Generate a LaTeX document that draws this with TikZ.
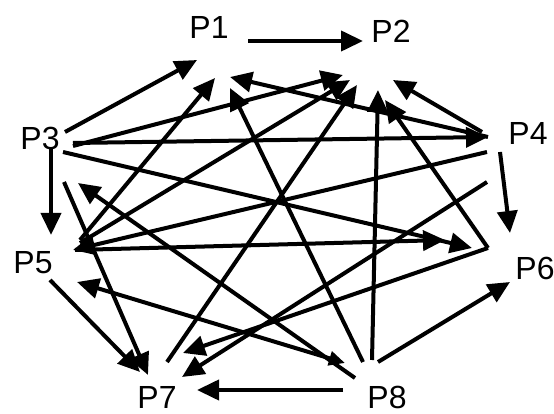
\documentclass[tikz,border=0pt]{standalone}
\usepackage{fontspec}
\setmainfont{Liberation Sans}
\usetikzlibrary{arrows.meta}
\begin{document}
\begin{tikzpicture}[x=1pt,y=-1pt,
  lbl/.style={font=\fontsize{32}{32}\selectfont, inner sep=0pt},
  con/.style={line width=4pt, -{Triangle[length=22pt,width=20pt]}},
  dcon/.style={line width=4pt, {Triangle[length=22pt,width=20pt]}-{Triangle[length=16pt,width=14pt]}}]
\useasboundingbox[fill=white] (0,0) rectangle (554,414);
% labels
\node[lbl] (P1) at (209,27) {P1};
\node[lbl] (P2) at (391,31) {P2};
\node[lbl] (P3) at (40,138) {P3};
\node[lbl] (P4) at (528,133) {P4};
\node[lbl] (P5) at (33,263) {P5};
\node[lbl] (P6) at (535,268) {P6};
\node[lbl] (P7) at (157,397) {P7};
\node[lbl] (P8) at (387,397) {P8};
% endpoints
\coordinate (a1) at (248,41);  \coordinate (b2) at (363,41);
\coordinate (p3a) at (65,132); \coordinate (p1a) at (197,60);
\coordinate (p3b) at (51,148); \coordinate (p5a) at (51,235);
\coordinate (p3c) at (73,143); \coordinate (p4a) at (488,137);
\coordinate (p3d) at (73,146); \coordinate (p2a) at (343,75);
\coordinate (p3e) at (63,152); \coordinate (p6a) at (472,248);
\coordinate (p3f) at (64,182); \coordinate (p7a) at (148,375);
\coordinate (p1b) at (230,77);
\coordinate (p4b) at (482,132); \coordinate (p2b) at (393,80);
\coordinate (p4c) at (487,152); \coordinate (p5b) at (73,250);
\coordinate (p4d) at (487,182); \coordinate (p7b) at (182,377);
\coordinate (p4e) at (500,152); \coordinate (p6b) at (510,233);
\coordinate (p5c) at (80,240);  \coordinate (p1c) at (215,78);
\coordinate (p5d) at (80,243);  \coordinate (p2c) at (350,80);
\coordinate (p5e) at (75,250);  \coordinate (p6c) at (445,240);
\coordinate (p5f) at (50,280);  \coordinate (p7c) at (140,372);
\coordinate (p6d) at (488,248); \coordinate (p2d) at (385,100);
\coordinate (p7d) at (183,353);
\coordinate (p7e) at (167,362); \coordinate (p2e) at (357,85);
\coordinate (p8a) at (343,390); \coordinate (p7f) at (197,390);
\coordinate (p8b) at (363,362); \coordinate (p1d) at (230,88);
\coordinate (p8c) at (372,360); \coordinate (p2f) at (378,90);
\coordinate (p8d) at (378,362); \coordinate (p6e) at (510,282);
\coordinate (p8e) at (355,378); \coordinate (p3g) at (78,183);
\coordinate (p8f) at (345,363); \coordinate (p5g) at (77,282);
% connectors
\draw[con] (a1) -- (b2);
\draw[con] (p3a) -- (p1a);
\draw[con] (p3b) -- (p5a);
\draw[con] (p3c) -- (p4a);
\draw[con] (p3d) -- (p2a);
\draw[con] (p3e) -- (p6a);
\draw[con] (p3f) -- (p7a);
\draw[con] (p4a) -- (p1b);
\draw[con] (p4b) -- (p2b);
\draw[con] (p4c) -- (p5b);
\draw[con] (p4d) -- (p7b);
\draw[con] (p4e) -- (p6b);
\draw[con] (p5c) -- (p1c);
\draw[con] (p5d) -- (p2c);
\draw[con] (p5e) -- (p6c);
\draw[con] (p5f) -- (p7c);
\draw[con] (p6d) -- (p2d);
\draw[con] (p6d) -- (p7d);
\draw[con] (p7e) -- (p2e);
\draw[con] (p8a) -- (p7f);
\draw[con] (p8b) -- (p1d);
\draw[con] (p8c) -- (p2f);
\draw[con] (p8d) -- (p6e);
\draw[con] (p8e) -- (p3g);
\draw[dcon] (p5g) -- (p8f);
\end{tikzpicture}
\end{document}
